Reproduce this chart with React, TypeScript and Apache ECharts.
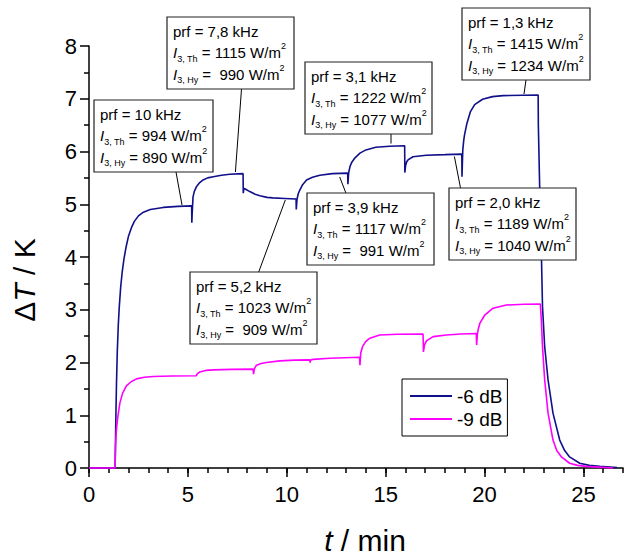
import React, { useEffect, useRef } from 'react';
import * as echarts from 'echarts';

const FONT = "'Liberation Sans', Arial, Helvetica, sans-serif";

// ---------- data ----------
const seriesNames = ['-6 dB', '-9 dB'];

// [t / min, ΔT / K]  -6 dB
const dB6: number[][] = [
  [0, 0], [1.32, 0], [1.34, 0.5], [1.36, 1.0], [1.39, 1.6], [1.43, 2.2], [1.48, 2.7], [1.53, 3.05],
  [1.6, 3.42], [1.68, 3.72], [1.77, 3.97], [1.88, 4.2], [2.0, 4.4], [2.15, 4.56], [2.3, 4.68],
  [2.5, 4.78], [2.75, 4.85], [3.1, 4.9], [3.75, 4.94], [4.5, 4.96], [5.19, 4.97],
  [5.2, 4.65], [5.22, 4.85], [5.26, 5.14], [5.33, 5.25], [5.43, 5.33], [5.6, 5.41], [5.77, 5.46],
  [6.0, 5.5], [6.28, 5.52], [6.7, 5.55], [7.12, 5.57], [7.79, 5.58],
  [7.8, 5.21], [7.83, 5.3], [7.9, 5.29], [8.13, 5.24], [8.4, 5.19], [8.64, 5.16], [9.0, 5.13],
  [9.3, 5.12], [9.9, 5.11], [10.47, 5.1],
  [10.48, 4.9], [10.52, 5.1], [10.58, 5.2], [10.66, 5.27], [10.8, 5.37], [11.0, 5.46], [11.3, 5.51],
  [11.67, 5.55], [12.3, 5.58], [13.08, 5.59],
  [13.09, 5.38], [13.13, 5.6], [13.2, 5.72], [13.28, 5.79], [13.45, 5.88], [13.7, 5.97], [14.0, 6.03],
  [14.5, 6.08], [15.2, 6.1], [15.96, 6.11],
  [15.97, 5.6], [16.01, 5.74], [16.07, 5.81], [16.13, 5.84], [16.38, 5.9], [17.05, 5.93], [18.0, 5.94],
  [18.85, 5.95],
  [18.86, 5.52], [18.88, 5.8], [18.9, 6.03], [18.95, 6.22], [18.99, 6.32], [19.1, 6.52], [19.28, 6.75],
  [19.5, 6.89], [19.9, 6.99], [20.4, 7.04], [20.93, 7.06], [22.71, 7.07],
  [22.72, 6.5], [22.79, 5.27], [22.88, 3.94], [22.93, 3.06], [23.04, 2.3], [23.21, 1.67], [23.46, 1.04],
  [23.8, 0.53], [24.05, 0.33], [24.3, 0.21], [24.81, 0.09], [25.3, 0.05], [25.82, 0.03], [26.7, 0.01],
];

// [t / min, ΔT / K]  -9 dB
const dB9: number[][] = [
  [0, 0], [1.32, 0], [1.34, 0.4], [1.38, 0.7], [1.45, 0.95], [1.56, 1.23], [1.7, 1.42], [1.9, 1.56],
  [2.15, 1.64], [2.4, 1.69], [2.8, 1.72], [3.24, 1.735], [4.2, 1.745], [5.43, 1.75],
  [5.48, 1.79], [5.6, 1.82], [5.9, 1.85], [6.3, 1.86], [7.2, 1.87], [8.3, 1.875],
  [8.32, 1.78], [8.36, 1.88], [8.47, 1.95], [8.7, 1.98], [8.97, 2.0], [9.65, 2.03], [10.4, 2.045], [11.16, 2.05],
  [11.18, 2.0], [11.22, 2.05], [11.33, 2.06], [12.17, 2.08], [13.68, 2.1],
  [13.7, 1.95], [13.74, 2.18], [13.83, 2.3], [14.0, 2.4], [14.2, 2.46], [14.7, 2.52], [15.6, 2.535], [16.89, 2.54],
  [16.91, 2.2], [16.96, 2.33], [17.06, 2.41], [17.4, 2.49], [18.07, 2.52], [18.8, 2.54], [19.58, 2.55],
  [19.6, 2.33], [19.64, 2.55], [19.7, 2.66], [19.76, 2.74], [20.01, 2.9], [20.43, 3.03], [21.1, 3.09],
  [22.0, 3.105], [22.82, 3.11],
  [22.87, 2.81], [22.93, 2.3], [23.04, 1.67], [23.21, 1.04], [23.46, 0.53], [23.65, 0.33], [23.89, 0.21],
  [24.3, 0.09], [24.7, 0.05], [25.15, 0.03], [26.5, 0.0],
];

const xMajorTicks = [0, 5, 10, 15, 20, 25];

const prfLabels = ['10', '7,8', '5,2', '3,9', '3,1', '2,0', '1,3'];
const iThValues = ['994', '1115', '1023', '1117', '1222', '1189', '1415'];
const iHyValues = ['890', ' 990', ' 909', ' 991', '1077', '1040', '1234'];

// ---------- layout (pixels) ----------
const boxes = [
  [94, 100, 119, 72],
  [167, 17, 127, 72],
  [190, 272, 127, 72],
  [307, 193, 127, 72],
  [305, 62, 127, 72],
  [449, 188, 127, 72],
  [462, 8, 128, 72],
];
const leaders = [
  [176, 172, 182, 205],
  [241.5, 89, 235.4, 172],
  [258.7, 272, 285.3, 200],
  [339.7, 177, 345.9, 193],
  [391, 134, 391, 143.5],
  [454.4, 156.5, 460.5, 188],
  [526, 80, 524, 94],
];

const BLUE = '#10108a';
const MAGENTA = '#ff00ff';

export default function App() {
  const ref = useRef<HTMLDivElement>(null);

  useEffect(() => {
    document.body.style.margin = '0';
    const chart = echarts.init(ref.current!, null, { renderer: 'svg' });

    const axisLine = { color: '#000', width: 1.5 };
    const graphics: any[] = [];
    boxes.forEach((b, i) => {
      const [x, y, w, h] = b;
      const l = leaders[i];
      graphics.push({
        type: 'line',
        z: 99,
        shape: { x1: l[0], y1: l[1], x2: l[2], y2: l[3] },
        style: { stroke: '#000', lineWidth: 1 },
      });
      graphics.push({
        type: 'rect',
        z: 100,
        shape: { x, y, width: w, height: h },
        style: { fill: '#fff', stroke: '#222', lineWidth: 1.2 },
      });
      graphics.push({
        type: 'text',
        z: 101,
        x: x + 6,
        y: y + 3.25,
        style: {
          text:
            `prf = ${prfLabels[i]} kHz\n` +
            `{i|I}{sub|3, Th} = ${iThValues[i]} W/m{sup|2}\n` +
            `{i|I}{sub|3, Hy} = ${iHyValues[i]} W/m{sup|2}`,
          fontSize: 15,
          fontFamily: FONT,
          fill: '#000',
          lineHeight: 21.5,
          align: 'left',
          verticalAlign: 'top',
          rich: {
            i: { fontStyle: 'italic', fontSize: 15, fontFamily: FONT, fill: '#000' },
            sub: { fontSize: 9, lineHeight: 9, verticalAlign: 'bottom', fontFamily: FONT, fill: '#000' },
            sup: { fontSize: 9, lineHeight: 9, verticalAlign: 'top', fontFamily: FONT, fill: '#000' },
          },
        },
      });
    });

    graphics.push({
      type: 'text',
      z: 50,
      x: 24,
      y: 280,
      rotation: Math.PI / 2,
      style: {
        text: 'Δ{t|T} / K',
        fontSize: 30,
        fontFamily: FONT,
        fill: '#000',
        align: 'center',
        verticalAlign: 'middle',
        rich: { t: { fontStyle: 'italic', fontSize: 30, fontFamily: FONT, fill: '#000' } },
      },
    });
    graphics.push({
      type: 'text',
      z: 50,
      x: 365,
      y: 540,
      style: {
        text: '{t|t} / min',
        fontSize: 30,
        fontFamily: FONT,
        fill: '#000',
        align: 'center',
        verticalAlign: 'middle',
        rich: { t: { fontStyle: 'italic', fontSize: 30, fontFamily: FONT, fill: '#000' } },
      },
    });

    const option: any = {
      animation: false,
      backgroundColor: '#fff',
      grid: { left: 89, top: 46, right: 19, bottom: 88, containLabel: false },
      legend: {
        data: seriesNames,
        orient: 'vertical',
        left: 402,
        top: 379,
        padding: [7, 5, 7, 8],
        itemGap: 3,
        itemWidth: 42,
        itemHeight: 2,
        icon: 'rect',
        borderColor: '#000',
        borderWidth: 1,
        borderRadius: 0,
        backgroundColor: '#fff',
        textStyle: { fontSize: 19, fontFamily: FONT, color: '#000', lineHeight: 20 },
      },
      xAxis: [
        {
          type: 'value',
          min: 0,
          max: 27,
          interval: 1,
          position: 'bottom',
          axisLine: { show: true, onZero: false, lineStyle: axisLine },
          axisTick: { show: true, length: 5, lineStyle: axisLine },
          axisLabel: {
            customValues: xMajorTicks,
            fontSize: 22,
            fontFamily: FONT,
            color: '#000',
            margin: 15,
          },
          splitLine: { show: false },
        },
        {
          type: 'value',
          min: 0,
          max: 27,
          interval: 5,
          position: 'bottom',
          axisLine: { show: false },
          axisTick: { show: true, customValues: xMajorTicks, length: 9, lineStyle: axisLine },
          axisLabel: { show: false },
          splitLine: { show: false },
        },
      ],
      yAxis: {
        type: 'value',
        min: 0,
        max: 8,
        interval: 1,
        axisLine: { show: true, onZero: false, lineStyle: axisLine },
        axisTick: { show: true, length: 9, lineStyle: axisLine },
        minorTick: { show: true, splitNumber: 2, length: 5, lineStyle: axisLine },
        axisLabel: { fontSize: 22, fontFamily: FONT, color: '#000', margin: 12 },
        splitLine: { show: false },
        minorSplitLine: { show: false },
      },
      series: [
        {
          name: seriesNames[0],
          type: 'line',
          data: dB6,
          symbol: 'none',
          clip: false,
          xAxisIndex: 0,
          lineStyle: { color: BLUE, width: 1.6 },
          itemStyle: { color: BLUE },
          z: 2,
        },
        {
          name: seriesNames[1],
          type: 'line',
          data: dB9,
          symbol: 'none',
          clip: false,
          xAxisIndex: 0,
          lineStyle: { color: MAGENTA, width: 1.6 },
          itemStyle: { color: MAGENTA },
          z: 3,
        },
      ],
      graphic: { elements: graphics },
    };

    chart.setOption(option);
    return () => chart.dispose();
  }, []);

  return <div ref={ref} style={{ width: 642, height: 556 }} />;
}
